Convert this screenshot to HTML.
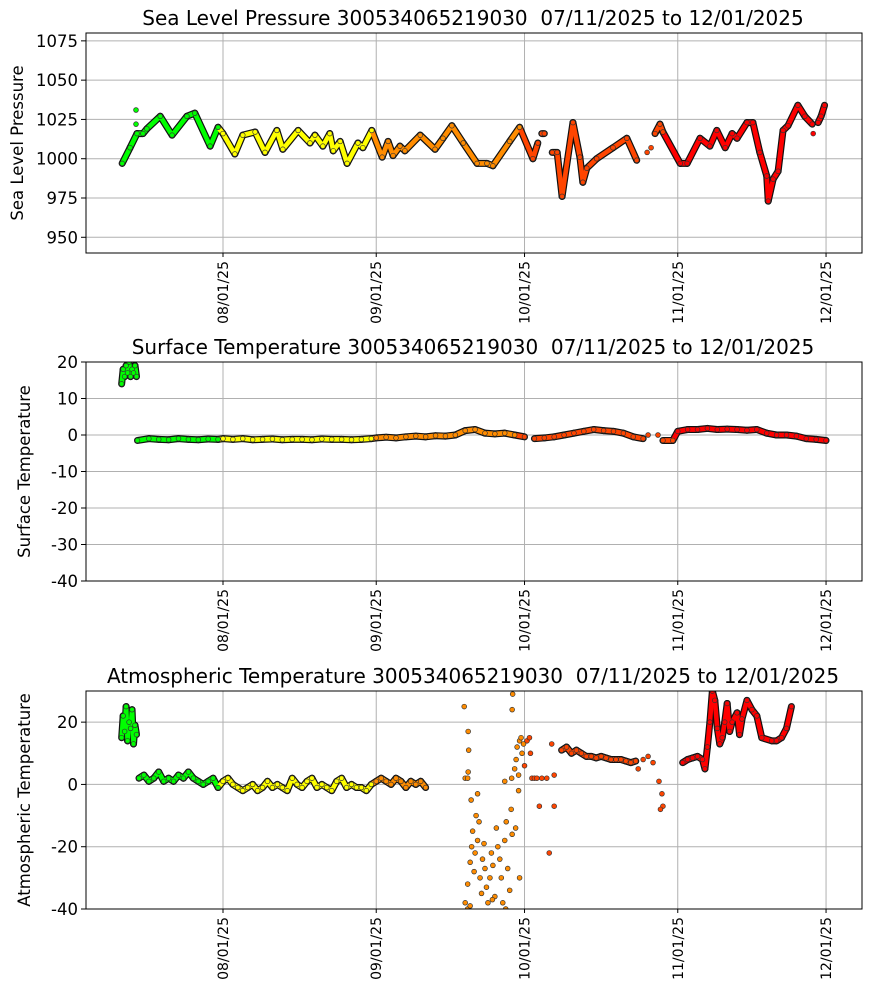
<!DOCTYPE html>
<html><head><meta charset="utf-8"><style>
body{margin:0;background:#fff;}
svg{display:block;font-family:"DejaVu Sans","Liberation Sans",sans-serif;}
text{white-space:pre;}
</style></head><body>
<svg id="chart" width="870" height="992" viewBox="0 0 870 992" xmlns="http://www.w3.org/2000/svg"></svg>
<script>
// ---------- data (days relative to 08/01/25) ----------
const xTickLabels = ["08/01/25","09/01/25","10/01/25","11/01/25","12/01/25"];
const xTickDays = [0,31,61,92,122];
const monthBreaks = [0,31,61,92];
const monthColors = ["#00ff00","#ffff00","#ff8c00","#ff4500","#ff0000"];

const slpTicks = [950,975,1000,1025,1050,1075];
const slpDays = [-20.4,-18.8,-17.4,-16.2,-15.4,-12.7,-10.3,-7.3,-5.7,-2.6,-1,0,2.4,4,6.5,8.5,10.9,12.1,15.2,17.6,18.6,20.2,21.6,22.3,23.7,25.1,27.3,28.3,30.1,32.2,33.4,34.4,35.8,36.8,39.9,42.9,44.5,46.3,48.6,51.4,53.4,54.6,58,60,62.7,63.7,null,64.5,65,null,66.6,67.6,68.6,70.8,72.2,72.8,73.6,75.6,78.9,81.7,83.7,null,85.8,null,86.6,null,87.4,88.4,89,92.5,93.9,96.5,98.5,99.9,101.6,103,104,106,107.2,108.6,110,110.3,111.3,112.3,113.3,114.3,116.3,117.7,119.2,null,119.4,null,120.4,121,121.7];
const slpVals = [997,1007,1016,1016,1019,1027,1015,1027,1029,1008,1020,1016,1003,1015,1017,1004,1018,1006,1018,1010,1015,1008,1016,1005,1011,997,1010,1007,1018,1001,1011,1002,1008,1005,1015,1006,1013,1021,1010,997,997,995.5,1011,1020,1000,1010,null,1016,1016,null,1004,1004,976,1023,1001,985,994,1000,1007,1013,999,null,1004,null,1007,null,1016,1022,1017,997,997,1013,1008,1018,1007,1016,1013,1023,1023,1004,989,973,987,992,1018,1021,1034,1027,1022,null,1016,null,1023,1027,1034];
const slpExtraDays = [-17.6,-17.6];
const slpExtraVals = [1031,1022];

const sstTicks = [-40,-30,-20,-10,0,10,20];
const sstDays = [-20.5,-20.2,-19.9,-19.6,-19.3,-19,-18.7,-18.4,-18.1,-17.8,-17.5,null,-17.3,-15,-13,-11,-9,-7,-5,-3,-1,0,2,4,6,8,10,12,14,16,18,20,22,24,26,28,30,31,33,35,37,39,41,43,45,47,49,51,53,55,57,59,61,null,63,65,67,69,71,73,75,77,79,81,83,85,null,86,null,88,null,89,91,92,94,96,98,100,102,104,106,108,110,112,114,116,118,120,122];
const sstVals = [14,18,16,19,17,20,16,18,17,19,16,null,-1.5,-1,-1.2,-1.3,-1,-1.2,-1.3,-1.1,-1.2,-1,-1.2,-1,-1.3,-1.2,-1.1,-1.3,-1.2,-1.2,-1.3,-1.1,-1.2,-1.2,-1.3,-1.2,-1,-0.8,-0.6,-0.8,-0.5,-0.3,-0.5,-0.2,-0.3,0,1.2,1.5,0.5,0.3,0.5,0,-0.5,null,-1,-0.8,-0.5,0,0.5,1,1.5,1.2,1,0.5,-0.5,-1,null,0,null,0,null,-1.5,-1.5,1,1.5,1.5,1.8,1.5,1.6,1.5,1.3,1.5,0.5,0,0,-0.3,-1,-1.2,-1.5,-1.8];

const atTicks = [-40,-20,0,20];
const atDays = [-20.5,-20.2,-19.9,-19.6,-19.3,-19,-18.7,-18.4,-18.1,-17.8,-17.5,null,-17,-16,-15,-14,-13,-12,-11,-10,-9,-8,-7,-6,-5,-4,-3,-2,-1,0,1,2,3,4,5,6,7,8,9,10,11,12,13,14,15,16,17,18,19,20,21,22,23,24,25,26,27,28,29,30,31,32,33,34,35,36,37,38,39,40,41,null,42,49,null,67.5,68.5,69.5,70.5,71.5,72.5,73.5,74.5,75.5,76.5,77.5,78.5,79.5,80.5,81.5,82.5,83.5,null,92,93,94,95,96,97,97.5,98,98.5,99,99.5,100,100.5,101,101.5,102,102.5,103,104,104.5,105,106,107,108,109,111,112,113,114,115];
const atVals = [15,22,17,25,14,20,18,24,13,19,16,null,2,3,1,2,4,1,2,1,3,2,4,2,1,0,1,2,-1,1,2,0,-1,-2,-1,0,-2,-1,1,-1,0,-1,-2,2,0,-1,1,2,-1,0,-1,-2,1,2,-1,0,-1,-1,-2,0,1,2,1,0,2,1,-1,1,0,1,-1,-2,null,2,2,null,11,12,10,11,10,9,9,8.5,9,8.5,8,8,8,7.5,7,7.5,6,null,7,8,8.5,9,8,5,12,20,30,27,18,13,15,20,26,17,20,23,16,21,27,24,22,15,14,14,15,18,25,32];
const atScatterDays = [49,49.5,50,50.3,50.5,50.8,51,51.2,51.5,51.8,52,52.3,52.5,52.8,53,53.3,53.6,54,54.3,54.6,55,55.3,55.6,56,56.3,56.6,57,57.3,57.6,58,58.3,58.5,50.2,51.5,49.5,50,57.2,54.5,48.8,49.6,49.7,49.6,49.5,58.6,58.5,58.4,57,59,59.3,59.5,59.8,60,60.3,60.5,60.8,61,61.5,62,62.2,62.5,63,63.5,64,64.5,65.5,66,66.5,67,67,59.8,59.2,60,84,85,86,87,88.2,88.8,89,88.5];
const atScatterVals = [-38,-32,-25,-20,-15,-28,-22,-10,-18,-12,-30,-35,-24,-19,-27,-33,-38,-30,-22,-26,-36,-14,-20,-24,-30,-38,-18,-12,-27,-34,-8,-16,-5,-3,-40,-39,-40,-37,25,17,11,4,2,29,24,2,1,5,8,12,3,14,15,10,13,6,14,15,10,2,2,2,-7,2,2,-22,13,3,-7,-2,-14,-30,5,8,9,7,1,-3,-7,-8];

// ---------- layout ----------
const NS="http://www.w3.org/2000/svg";
const svg=document.getElementById('chart');
const X0=86,X1=862;
function xs(d){return 223+d*4.943;}
function colorFor(d){let i=0;if(d>=monthBreaks[0])i=1;if(d>=monthBreaks[1])i=2;if(d>=monthBreaks[2])i=3;if(d>=monthBreaks[3])i=4;return monthColors[i];}
function mk(tag,attrs,parent){const e=document.createElementNS(NS,tag);for(const k in attrs)e.setAttribute(k,attrs[k]);(parent||svg).appendChild(e);return e;}

function panel(id,title,ylabel,top,bottom,vmin,vmax,ticks,days,vals,exDays,exVals){
  const g=mk('g',{});
  
  
  const ys=v=>bottom-(v-vmin)/(vmax-vmin)*(bottom-top);
  const clipId='clip-'+id;
  const cp=mk('clipPath',{id:clipId},g);mk('rect',{x:X0,y:top,width:X1-X0,height:bottom-top},cp);
  xTickDays.forEach((d,i)=>{
    const l=mk('line',{x1:xs(d),x2:xs(d),y1:top,y2:bottom,stroke:'#b0b0b0','stroke-width':1},g);
    
    mk('line',{x1:xs(d),x2:xs(d),y1:bottom,y2:bottom+4,stroke:'#000'},g);
    const t=mk('text',{x:0,y:0,'font-size':14,'text-anchor':'end',transform:`translate(${xs(d)+5},${bottom+8}) rotate(-90)`},g);
    t.textContent=xTickLabels[i];
    
  });
  ticks.forEach(v=>{
    const l=mk('line',{x1:X0,x2:X1,y1:ys(v),y2:ys(v),stroke:'#b0b0b0','stroke-width':1},g);
    
    mk('line',{x1:X0-5,x2:X0,y1:ys(v),y2:ys(v),stroke:'#000'},g);
    const t=mk('text',{x:X0-8,y:ys(v)+6,'font-size':16.5,'text-anchor':'end'},g);
    t.textContent=v;
    
  });
  const sg=mk('g',{'clip-path':`url(#${clipId})`},g);
  
  const segs=[];
  for(let i=1;i<days.length;i++){
    if(days[i]===null||days[i-1]===null||vals[i]===null||vals[i-1]===null)continue;
    segs.push([days[i-1],vals[i-1],days[i],vals[i]]);
  }
  segs.forEach(s=>mk('line',{x1:xs(s[0]),y1:ys(s[1]),x2:xs(s[2]),y2:ys(s[3]),stroke:'#111','stroke-width':7,'stroke-linecap':'round'},sg));
  segs.forEach(s=>{const l=mk('line',{x1:xs(s[0]),y1:ys(s[1]),x2:xs(s[2]),y2:ys(s[3]),stroke:colorFor(s[2]),'stroke-width':4.6,'stroke-linecap':'round'},sg);
    });
  const pts=[];
  days.forEach((d,i)=>{if(d!==null&&vals[i]!==null)pts.push([d,vals[i]]);});
  exDays.forEach((d,i)=>pts.push([d,exVals[i]]));
  pts.forEach(p=>{const c=mk('circle',{cx:xs(p[0]),cy:ys(p[1]),r:2.4,fill:colorFor(p[0]),stroke:'#333','stroke-width':0.7},sg);
    });
  const f=mk('rect',{x:X0,y:top,width:X1-X0,height:bottom-top,fill:'none',stroke:'#000','stroke-width':1},g);
  
  const tt=mk('text',{x:473,y:top-8,'font-size':20,'text-anchor':'middle'},g);
  tt.textContent=title;
  const yl=mk('text',{x:0,y:0,'font-size':16.5,'text-anchor':'middle',transform:`translate(${id==='slp'?23:30},${(top+bottom)/2}) rotate(-90)`},g);
  yl.textContent=ylabel;
}
panel('slp','Sea Level Pressure 300534065219030  07/11/2025 to 12/01/2025','Sea Level Pressure',33,253,940,1080,slpTicks,slpDays,slpVals,slpExtraDays,slpExtraVals);
panel('sst','Surface Temperature 300534065219030  07/11/2025 to 12/01/2025','Surface Temperature',362,581,-40,20,sstTicks,sstDays,sstVals,[],[]);
panel('at','Atmospheric Temperature 300534065219030  07/11/2025 to 12/01/2025','Atmospheric Temperature',691,909,-40,30,atTicks,atDays,atVals,atScatterDays,atScatterVals);
</script>
</body></html>
